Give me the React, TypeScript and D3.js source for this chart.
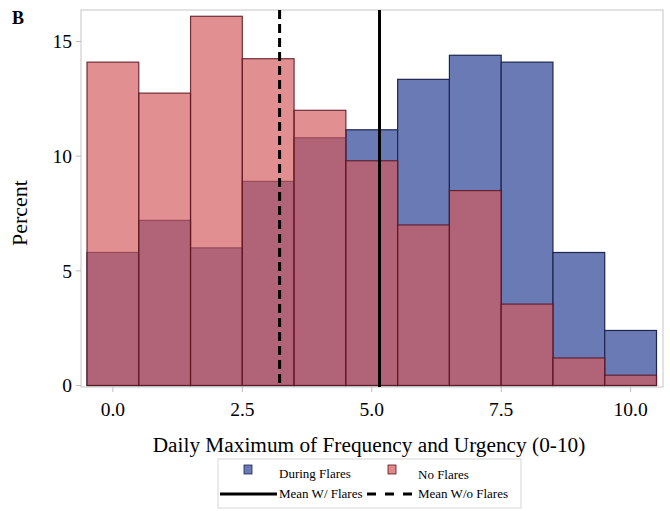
import React from "react";
import * as d3 from "d3";

const bins = [0, 1, 2, 3, 4, 5, 6, 7, 8, 9, 10];
const duringFlares = [5.8, 7.2, 6.0, 8.9, 10.8, 11.15, 13.35, 14.4, 14.1, 5.8, 2.4];
const noFlares = [14.1, 12.75, 16.1, 14.25, 12.0, 9.8, 7.0, 8.5, 3.55, 1.2, 0.45];
const xTicks = [0, 2.5, 5, 7.5, 10];
const yTicks = [0, 5, 10, 15];
const meanWithFlares = 5.15;
const meanWithoutFlares = 3.22;

const W = 670;
const H = 511;
const font = "Liberation Serif, DejaVu Serif, serif";

export default function App() {
  const x = d3.scaleLinear().domain([-0.5, 10.5]).range([87, 656.5]);
  const y = d3.scaleLinear().domain([0, 15]).range([385.5, 41.5]);
  const frame = { l: 81, t: 10, r: 663, b: 387 };
  const bw = x(1) - x(0);

  return (
    <svg width={W} height={H} style={{ position: "absolute", left: 0, top: 0, background: "#fff", fontFamily: font }}>
      <rect x={0} y={0} width={W} height={H} fill="#fff" />
      <text x={12} y={24} fontFamily={font} fontWeight="bold" fontSize={18}>B</text>
      {/* frame */}
      <rect x={frame.l} y={frame.t} width={frame.r - frame.l} height={frame.b - frame.t} fill="none" stroke="#cfcfcf" strokeWidth={1.2} />
      {/* blue bars */}
      {bins.map((b, i) => (
        <rect key={"b" + i} x={x(b - 0.5)} y={y(duringFlares[i])} width={bw} height={y(0) - y(duringFlares[i])}
          fill="#6a7ab5" stroke="#1e2650" strokeWidth={1.2} />
      ))}
      {/* red bars */}
      {bins.map((b, i) => (
        <rect key={"r" + i} x={x(b - 0.5)} y={y(noFlares[i])} width={bw} height={y(0) - y(noFlares[i])}
          fill="#d35a5c" fillOpacity={0.68} stroke="#5a1420" strokeOpacity={0.85} strokeWidth={1.2} />
      ))}
      {/* mean lines */}
      <line x1={x(meanWithoutFlares)} x2={x(meanWithoutFlares)} y1={frame.t} y2={frame.b} stroke="#000" strokeWidth={3} strokeDasharray="9,5" />
      <line x1={x(meanWithFlares)} x2={x(meanWithFlares)} y1={frame.t} y2={frame.b} stroke="#000" strokeWidth={3} />
      {/* y axis ticks */}
      {yTicks.map((t) => (
        <g key={"yt" + t}>
          <line x1={frame.l - 5} x2={frame.l} y1={y(t)} y2={y(t)} stroke="#bdbdbd" />
          <text x={frame.l - 9} y={y(t)} dy="0.35em" textAnchor="end" fontFamily={font} fontSize={19.5}>{t}</text>
        </g>
      ))}
      {/* x axis ticks */}
      {xTicks.map((t) => (
        <g key={"xt" + t}>
          <line x1={x(t)} x2={x(t)} y1={frame.b} y2={frame.b + 5} stroke="#bdbdbd" />
          <text x={x(t)} y={416} textAnchor="middle" fontFamily={font} fontSize={19.5}>{d3.format(".1f")(t)}</text>
        </g>
      ))}
      <text x={369} y={452} textAnchor="middle" fontFamily={font} fontSize={21.3}>Daily Maximum of Frequency and Urgency (0-10)</text>
      <text transform={`translate(27, 213) rotate(-90)`} textAnchor="middle" fontFamily={font} fontSize={22}>Percent</text>
      {/* legend */}
      <rect x={218} y={459} width={303} height={49} fill="#fff" stroke="#d6d6d6" />
      <rect x={244} y={465} width={8} height={9} fill="#6a7ab5" stroke="#1e2650" strokeWidth={0.8} />
      <text x={279} y={478} fontFamily={font} fontSize={13}>During Flares</text>
      <rect x={388} y={465} width={8} height={9} fill="#e0898b" stroke="#5a1420" strokeWidth={0.8} />
      <text x={418} y={479} fontFamily={font} fontSize={13}>No Flares</text>
      <line x1={220} x2={277} y1={494} y2={494} stroke="#000" strokeWidth={3} />
      <text x={279} y={498} fontFamily={font} fontSize={13}>Mean W/ Flares</text>
      <line x1={367} x2={413} y1={494} y2={494} stroke="#000" strokeWidth={3} strokeDasharray="9,9" />
      <text x={418} y={498} fontFamily={font} fontSize={13}>Mean W/o Flares</text>
    </svg>
  );
}
